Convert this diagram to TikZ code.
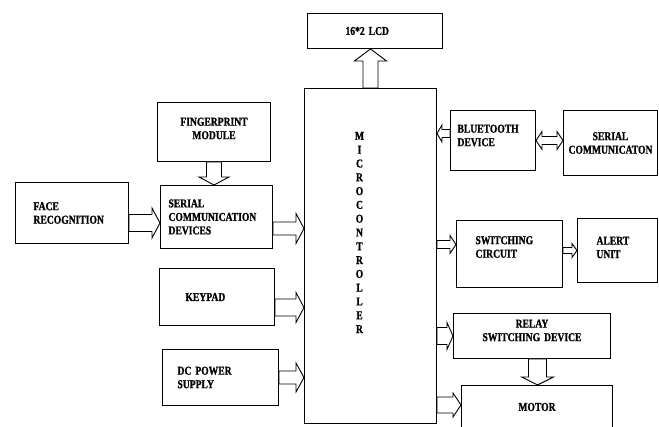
\documentclass[tikz,border=0pt]{standalone}
\usepackage{fontspec}
\setmainfont{Liberation Serif}[FakeStretch=0.8, BoldFeatures={FakeBold=1}]
\usepackage{tikz}
\usetikzlibrary{calc}

\begin{document}
\begin{tikzpicture}[
  x=1pt, y=-1pt,
  box/.style={draw, line width=1pt, fill=white, inner sep=0pt, anchor=north west, align=left, font=\bfseries\fontsize{12}{13.5}\selectfont},
  lbl/.style={inner sep=0pt, align=left, font=\bfseries\fontsize{12}{13.5}\selectfont},
  mcutext/.style={inner sep=0pt, align=center, font=\bfseries\fontsize{12}{13.8}\selectfont},
  blk/.style={draw, line width=0.9pt, fill=white, line join=miter},
  barrow/.style n args={3}{to path={let \p1=(\tikztostart), \p2=(\tikztotarget),
    \n1={atan2(\y2-\y1,\x2-\x1)}, \n2={veclen(\x2-\x1,\y2-\y1)-#3pt} in
    ($(\p1)+(\n1+90:#1pt)$) -- ($(\p1)+(\n1:\n2)+(\n1+90:#1pt)$) -- ($(\p1)+(\n1:\n2)+(\n1+90:#2pt)$)
    -- (\p2) -- ($(\p1)+(\n1:\n2)+(\n1-90:#2pt)$) -- ($(\p1)+(\n1:\n2)+(\n1-90:#1pt)$)
    -- ($(\p1)+(\n1-90:#1pt)$) -- cycle}},
  dbarrow/.style n args={3}{to path={let \p1=(\tikztostart), \p2=(\tikztotarget),
    \n1={atan2(\y2-\y1,\x2-\x1)}, \n2={veclen(\x2-\x1,\y2-\y1)-#3pt} in
    (\p1) -- ($(\p1)+(\n1:#3pt)+(\n1+90:#2pt)$) -- ($(\p1)+(\n1:#3pt)+(\n1+90:#1pt)$)
    -- ($(\p1)+(\n1:\n2)+(\n1+90:#1pt)$) -- ($(\p1)+(\n1:\n2)+(\n1+90:#2pt)$)
    -- (\p2) -- ($(\p1)+(\n1:\n2)+(\n1-90:#2pt)$) -- ($(\p1)+(\n1:\n2)+(\n1-90:#1pt)$)
    -- ($(\p1)+(\n1:#3pt)+(\n1-90:#1pt)$) -- ($(\p1)+(\n1:#3pt)+(\n1-90:#2pt)$) -- cycle}}
]
\useasboundingbox (0,0) rectangle (659,427);
\node[box, minimum width=135pt, minimum height=35pt, text width=59pt] (lcd) at (307,13) {16*2 LCD};
\node[box, minimum width=113pt, minimum height=59pt,
  label={[lbl, align=center, text width=100pt, yshift=3.5pt]center:FINGERPRINT\\MODULE}] (fp) at (157,102) {};
\node[box, minimum width=113pt, minimum height=61pt, text width=77pt] (face) at (15,182) {FACE\\RECOGNITION};
\node[box, minimum width=112pt, minimum height=63pt, text width=96pt] (scd) at (160,185) {SERIAL\\COMMUNICATION\\DEVICES};
\node[box, minimum width=115pt, minimum height=57pt, text width=63pt] (key) at (159,268) {KEYPAD};
\node[box, minimum width=116pt, minimum height=56pt, text width=86pt] (dc) at (162,349) {DC POWER\\SUPPLY};
\node[box, minimum width=132pt, minimum height=335pt,
  label={[mcutext, xshift=-11pt, yshift=23.5pt]center:M\\I\\C\\R\\O\\C\\O\\N\\T\\R\\O\\L\\L\\E\\R}] (mcu) at (304,88) {};
\node[box, minimum width=85pt, minimum height=60pt,
  label={[lbl, text width=71pt, yshift=5pt]center:BLUETOOTH\\DEVICE}] (bt) at (450,110) {};
\node[box, minimum width=94pt, minimum height=65pt, text width=94pt, align=center] (sc) at (563,110) {SERIAL\\COMMUNICATON};
\node[box, minimum width=106pt, minimum height=67pt,
  label={[lbl, text width=68pt, yshift=7pt]center:SWITCHING\\CIRCUIT}] (sw) at (456,220) {};
\node[box, minimum width=80pt, minimum height=64pt,
  label={[lbl, text width=42pt, yshift=3pt]center:ALERT\\UNIT}] (alert) at (577,218) {};
\node[box, minimum width=157pt, minimum height=45pt,
  label={[lbl, align=center, text width=150pt, yshift=5.5pt]center:RELAY\\SWITCHING DEVICE}] (relay) at (453,313) {};
\node[box, minimum width=151pt, minimum height=43pt, text width=140pt, align=center] (motor) at (461,385) {MOTOR};

\draw[blk, barrow={7.5}{16}{12}] (mcu.north) to (mcu.north |- lcd.south);
\draw[blk, barrow={7.5}{15}{8}] (fp.south) to (fp.south |- scd.north);
\coordinate (fr) at ([yshift=-10pt]face.east);
\draw[blk, barrow={8.5}{15}{8}] (fr) to (fr -| scd.west);
\coordinate (sr) at ([yshift=-11.5pt]scd.east);
\draw[blk, barrow={6.5}{15}{8}] (sr) to (sr -| mcu.west);
\coordinate (kr) at ([yshift=-10.5pt]key.east);
\draw[blk, barrow={8.5}{15}{8}] (kr) to (kr -| mcu.west);
\draw[blk, barrow={6.5}{14.5}{8}] (dc.east) to (dc.east -| mcu.west);
\coordinate (bl) at ([yshift=7pt]bt.west);
\draw[blk, barrow={4}{8.5}{5}] (bl) to (bl -| mcu.east);
\draw[blk, dbarrow={4}{9}{6}] (bt.east) to (bt.east -| sc.west);
\coordinate (sl) at ([yshift=9.5pt]sw.west);
\draw[blk, barrow={4}{9}{6}] (sl -| mcu.east) to (sl);
\coordinate (ar) at ([yshift=3.5pt]sw.east);
\draw[blk, barrow={3}{7}{5}] (ar) to (ar -| alert.west);
\draw[blk, barrow={8.5}{13.5}{6}] (relay.west -| mcu.east) to (relay.west);
\coordinate (rb) at ([xshift=5.5pt]relay.south);
\draw[blk, barrow={9}{16}{8}] (rb) to (rb |- motor.north);
\coordinate (ml) at ([yshift=-20pt]motor.north west);
\draw[blk, barrow={8}{12}{8}] (ml -| mcu.east) to (ml);
\end{tikzpicture}
\end{document}
